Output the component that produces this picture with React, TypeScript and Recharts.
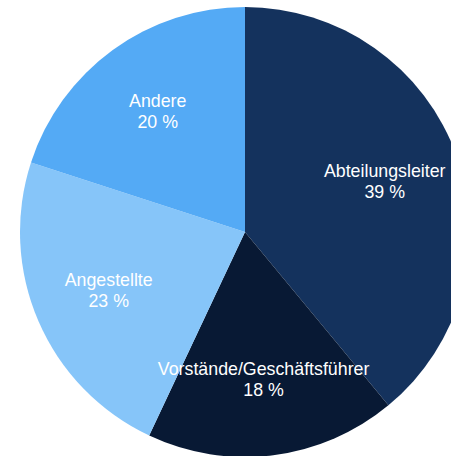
import { PieChart, Pie, Cell } from "recharts";

const CATEGORIES = [
  "Abteilungsleiter",
  "Vorstände/Geschäftsführer",
  "Angestellte",
  "Andere",
];
const SHARES = [39, 18, 23, 20];
const COLORS = ["#14325D", "#081934", "#86C5F9", "#54AAF5"];

const data = CATEGORIES.map((name, i) => ({ name, value: SHARES[i] }));

const RADIAN = Math.PI / 180;

function renderLabel(props: any) {
  const { cx, cy, midAngle, outerRadius, name, value } = props;
  const r = outerRadius * 0.66;
  const x = cx + r * Math.cos(-midAngle * RADIAN);
  const y = cy + r * Math.sin(-midAngle * RADIAN);
  return (
    <text
      x={x}
      y={y}
      fill="#ffffff"
      textAnchor="middle"
      fontSize={17.8}
      fontFamily="'Liberation Sans', Arial, sans-serif"
    >
      <tspan x={x} y={y - 10.5} dominantBaseline="central">
        {name}
      </tspan>
      <tspan x={x} y={y + 10.5} dominantBaseline="central">
        {value} %
      </tspan>
    </text>
  );
}

export default function App() {
  return (
    <div style={{ position: "absolute", left: 0, top: 0, background: "#fff" }}>
      <PieChart
        width={451}
        height={456}
        margin={{ top: 0, right: 0, bottom: 0, left: 0 }}
      >
        <Pie
          data={data}
          dataKey="value"
          nameKey="name"
          cx={245}
          cy={232}
          outerRadius={225}
          startAngle={90}
          endAngle={-270}
          stroke="none"
          label={renderLabel}
          labelLine={false}
          isAnimationActive={false}
        >
          {data.map((_, index) => (
            <Cell key={index} fill={COLORS[index % COLORS.length]} />
          ))}
        </Pie>
      </PieChart>
    </div>
  );
}
